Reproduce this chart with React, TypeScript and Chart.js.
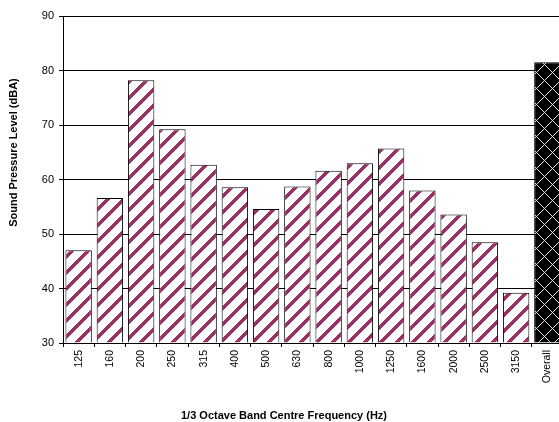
import React, { useEffect, useRef } from 'react';
import { Chart, registerables } from 'chart.js';

Chart.register(...registerables);

const categories = ['125', '160', '200', '250', '315', '400', '500', '630', '800', '1000', '1250', '1600', '2000', '2500', '3150', 'Overall'];
const levels = [47.0, 56.6, 78.2, 69.2, 62.7, 58.6, 54.6, 58.7, 61.6, 63.0, 65.7, 58.0, 53.6, 48.5, 39.2, 81.5];
const yTicks = [30, 40, 50, 60, 70, 80, 90];
const yTitle = 'Sound Pressure Level (dBA)';
const xTitle = '1/3 Octave Band Centre Frequency (Hz)';

const FONT = '"Liberation Sans", Arial, sans-serif';

function stripePattern(ctx: CanvasRenderingContext2D) {
  const n = 16;
  const c = document.createElement('canvas');
  c.width = n;
  c.height = n;
  const p = c.getContext('2d')!;
  p.fillStyle = '#ffffff';
  p.fillRect(0, 0, n, n);
  p.fillStyle = '#993366';
  for (let y = 0; y < n; y++) {
    for (let x = 0; x < n; x++) {
      if ((x + y) % n < 5) p.fillRect(x, y, 1, 1);
    }
  }
  return ctx.createPattern(c, 'repeat')!;
}

function crossPattern(ctx: CanvasRenderingContext2D) {
  const n = 16;
  const c = document.createElement('canvas');
  c.width = n;
  c.height = n;
  const p = c.getContext('2d')!;
  p.fillStyle = '#000000';
  p.fillRect(0, 0, n, n);
  p.fillStyle = '#e6e6e6';
  for (let y = 0; y < n; y++) {
    for (let x = 0; x < n; x++) {
      if ((x + y) % n === 0 || (x - y + n) % n === 0) p.fillRect(x, y, 1, 1);
    }
  }
  return ctx.createPattern(c, 'repeat')!;
}

const axisTitles = {
  id: 'axisTitles',
  afterDraw(chart: any) {
    const ctx = chart.ctx as CanvasRenderingContext2D;
    ctx.save();
    ctx.fillStyle = '#000';
    ctx.font = `bold 11px ${FONT}`;
    ctx.textAlign = 'center';
    ctx.textBaseline = 'alphabetic';
    ctx.fillText(xTitle, 284, 419);
    ctx.translate(16.5, 152.5);
    ctx.rotate(-Math.PI / 2);
    ctx.fillText(yTitle, 0, 0);
    ctx.restore();
  },
};

export default function App() {
  const ref = useRef<HTMLCanvasElement>(null);

  useEffect(() => {
    const canvas = ref.current!;
    const ctx = canvas.getContext('2d')!;
    const stripes = stripePattern(ctx);
    const cross = crossPattern(ctx);
    const fills = categories.map((c) => (c === 'Overall' ? cross : stripes));

    const chart = new Chart(canvas, {
      type: 'bar',
      data: {
        labels: categories,
        datasets: [
          {
            data: levels,
            base: 30,
            backgroundColor: fills as any,
            borderColor: '#000',
            borderWidth: 1,
            borderSkipped: 'start',
            categoryPercentage: 1,
            barPercentage: 0.845,
          } as any,
        ],
      },
      options: {
        animation: false,
        responsive: false,
        maintainAspectRatio: false,
        devicePixelRatio: 1,
        layout: { padding: { top: 16, right: 5, left: 0, bottom: 0 } },
        plugins: {
          legend: { display: false },
          tooltip: { enabled: false },
          title: { display: false },
        },
        scales: {
          x: {
            grid: { drawOnChartArea: false, drawTicks: true, tickLength: 4, color: '#000', offset: true },
            border: { color: '#000', width: 1 },
            ticks: {
              minRotation: 90,
              maxRotation: 90,
              autoSkip: false,
              padding: 3,
              color: '#000',
              font: { family: FONT, size: 10.5 },
            },
            afterFit: (s: any) => {
              s.height = 79;
            },
          },
          y: {
            min: 30,
            max: 90,
            afterBuildTicks: (s: any) => {
              s.ticks = yTicks.map((v) => ({ value: v }));
            },
            grid: { color: '#000', tickLength: 4 },
            border: { color: '#000', width: 1 },
            ticks: { padding: 5, color: '#000', font: { family: FONT, size: 11 } },
            afterFit: (s: any) => {
              s.width = 63;
            },
          },
        },
      },
      plugins: [axisTitles],
    });
    return () => chart.destroy();
  }, []);

  return (
    <div style={{ position: 'fixed', left: 0, top: 0, width: 559, height: 422, overflow: 'hidden', background: '#fff' }}>
      <canvas ref={ref} width={568} height={422} style={{ display: 'block' }} />
    </div>
  );
}
